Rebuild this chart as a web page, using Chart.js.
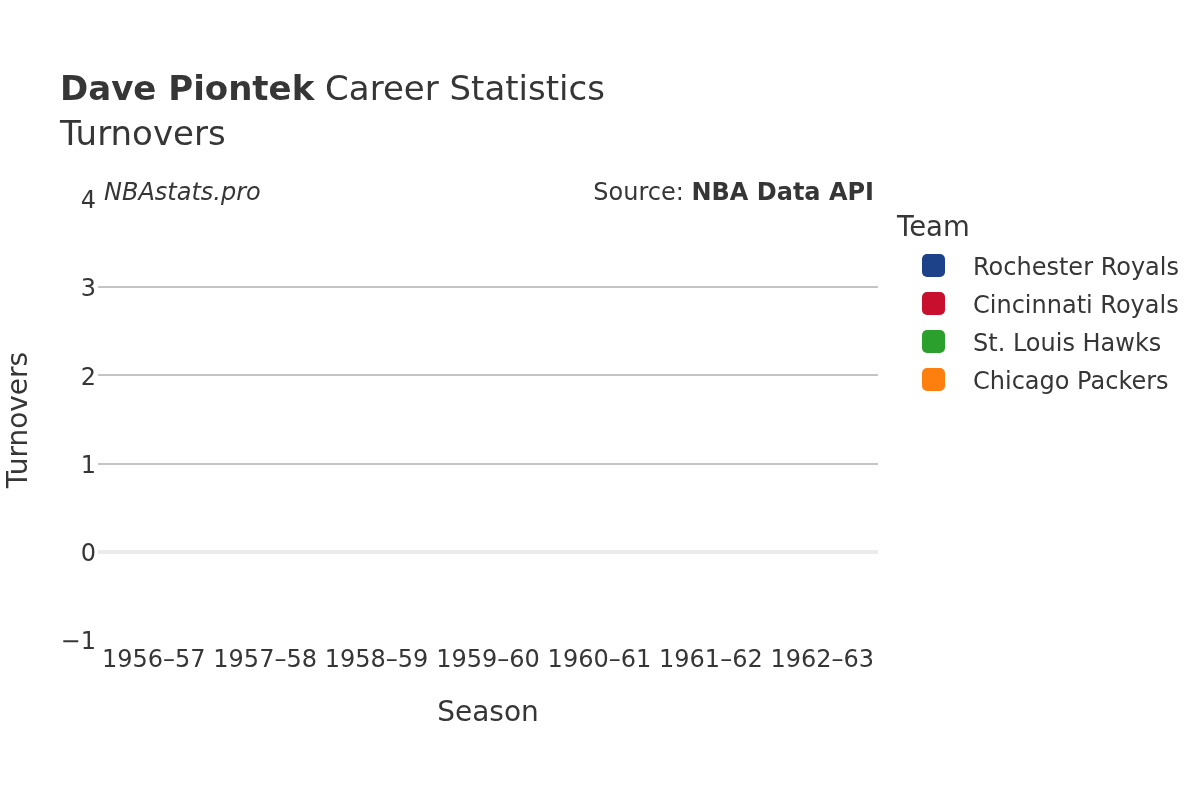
<!DOCTYPE html>
<html>
<head>
<meta charset="utf-8">
<script src="https://cdn.jsdelivr.net/npm/chart.js@4/dist/chart.umd.min.js"></script>
<style>
html,body{margin:0;padding:0;background:#fff;}
#wrap{width:1200px;height:800px;position:relative;}
</style>
</head>
<body>
<div id="wrap"><canvas id="c" width="1200" height="800"></canvas></div>
<script>
const seasons = ["1956\u201357","1957\u201358","1958\u201359","1959\u201360","1960\u201361","1961\u201362","1962\u201363"];
const teams = ["Rochester Royals","Cincinnati Royals","St. Louis Hawks","Chicago Packers"];
const teamColors = ["#1d428a","#c8102e","#2ca02c","#ff7f0e"];
// Turnovers were not recorded in these seasons: no values to plot
const rochesterTurnovers = [null,null,null,null,null,null,null];
const cincinnatiTurnovers = [null,null,null,null,null,null,null];
const stLouisTurnovers = [null,null,null,null,null,null,null];
const chicagoTurnovers = [null,null,null,null,null,null,null];
const yTicks = [-1,0,1,2,3,4];

const FONT = "'DejaVu Sans', sans-serif";
const TXT = "#363636";

const seriesValues = [rochesterTurnovers, cincinnatiTurnovers, stLouisTurnovers, chicagoTurnovers];

const decor = {
  id: 'decor',
  afterDraw(chart) {
    const ctx = chart.ctx;
    ctx.save();
    ctx.fillStyle = TXT;
    ctx.textBaseline = 'alphabetic';
    // Title
    ctx.textAlign = 'left';
    ctx.font = "bold 34px " + FONT;
    const t1 = "Dave Piontek";
    ctx.fillText(t1, 60, 100);
    const w1 = ctx.measureText(t1).width;
    ctx.font = "34px " + FONT;
    ctx.fillText(" Career Statistics", 60 + w1, 100);
    ctx.fillText("Turnovers", 60, 145);
    // annotations
    ctx.font = "italic 24px " + FONT;
    ctx.fillText("NBAstats.pro", 104, 200);
    ctx.textAlign = 'right';
    ctx.font = "bold 24px " + FONT;
    const s2 = "NBA Data API";
    ctx.fillText(s2, 874, 200);
    const w2 = ctx.measureText(s2).width;
    ctx.font = "24px " + FONT;
    ctx.fillText("Source: ", 874 - w2, 200);
    // axis titles
    ctx.textAlign = 'center';
    ctx.font = "28px " + FONT;
    ctx.fillText("Season", 488, 721);
    ctx.save();
    ctx.translate(27, 420);
    ctx.rotate(-Math.PI / 2);
    ctx.fillText("Turnovers", 0, 0);
    ctx.restore();
    // legend
    ctx.textAlign = 'left';
    ctx.font = "27.5px " + FONT;
    ctx.fillText("Team", 897, 236);
    ctx.font = "24px " + FONT;
    chart.data.datasets.forEach((ds, i) => {
      const cy = 266 + i * 38;
      ctx.fillStyle = ds.borderColor;
      ctx.beginPath();
      ctx.roundRect(922, cy - 12, 23, 23, 5);
      ctx.fill();
      ctx.fillStyle = TXT;
      ctx.fillText(ds.label, 973, cy + 9);
    });
    ctx.restore();
  }
};

new Chart(document.getElementById('c'), {
  type: 'line',
  data: {
    labels: seasons,
    datasets: teams.map((t, i) => ({
      label: t,
      data: seriesValues[i],
      borderColor: teamColors[i],
      backgroundColor: teamColors[i],
      borderWidth: 3,
      pointRadius: 6,
      spanGaps: false
    }))
  },
  options: {
    responsive: false,
    animation: false,
    layout: { padding: { left: 0, top: 199, right: 322, bottom: 0 } },
    plugins: { legend: { display: false }, tooltip: { enabled: false }, title: { display: false } },
    scales: {
      x: {
        type: 'category',
        offset: true,
        grid: { display: false, drawTicks: false },
        border: { display: false },
        ticks: { color: TXT, font: { family: FONT, size: 24 }, padding: 6, maxRotation: 0, autoSkip: false },
        afterFit(s) { s.height = 160; }
      },
      y: {
        min: -1, max: 4,
        afterBuildTicks(s) { s.ticks = yTicks.map(v => ({ value: v })); },
        grid: {
          drawTicks: false,
          color: c => (c.tick.value === 0 ? '#ebebeb' : (c.tick.value === 4 || c.tick.value === -1) ? 'rgba(0,0,0,0)' : '#c4c4c4'),
          lineWidth: c => (c.tick.value === 0 ? 4 : 2)
        },
        border: { display: false },
        ticks: {
          color: TXT, font: { family: FONT, size: 24 }, padding: 2, labelOffset: 3,
          callback: v => (v < 0 ? '\u2212' + Math.abs(v) : String(v))
        },
        afterFit(s) { s.width = 98; }
      }
    }
  },
  plugins: [decor]
});
</script>
</body>
</html>
